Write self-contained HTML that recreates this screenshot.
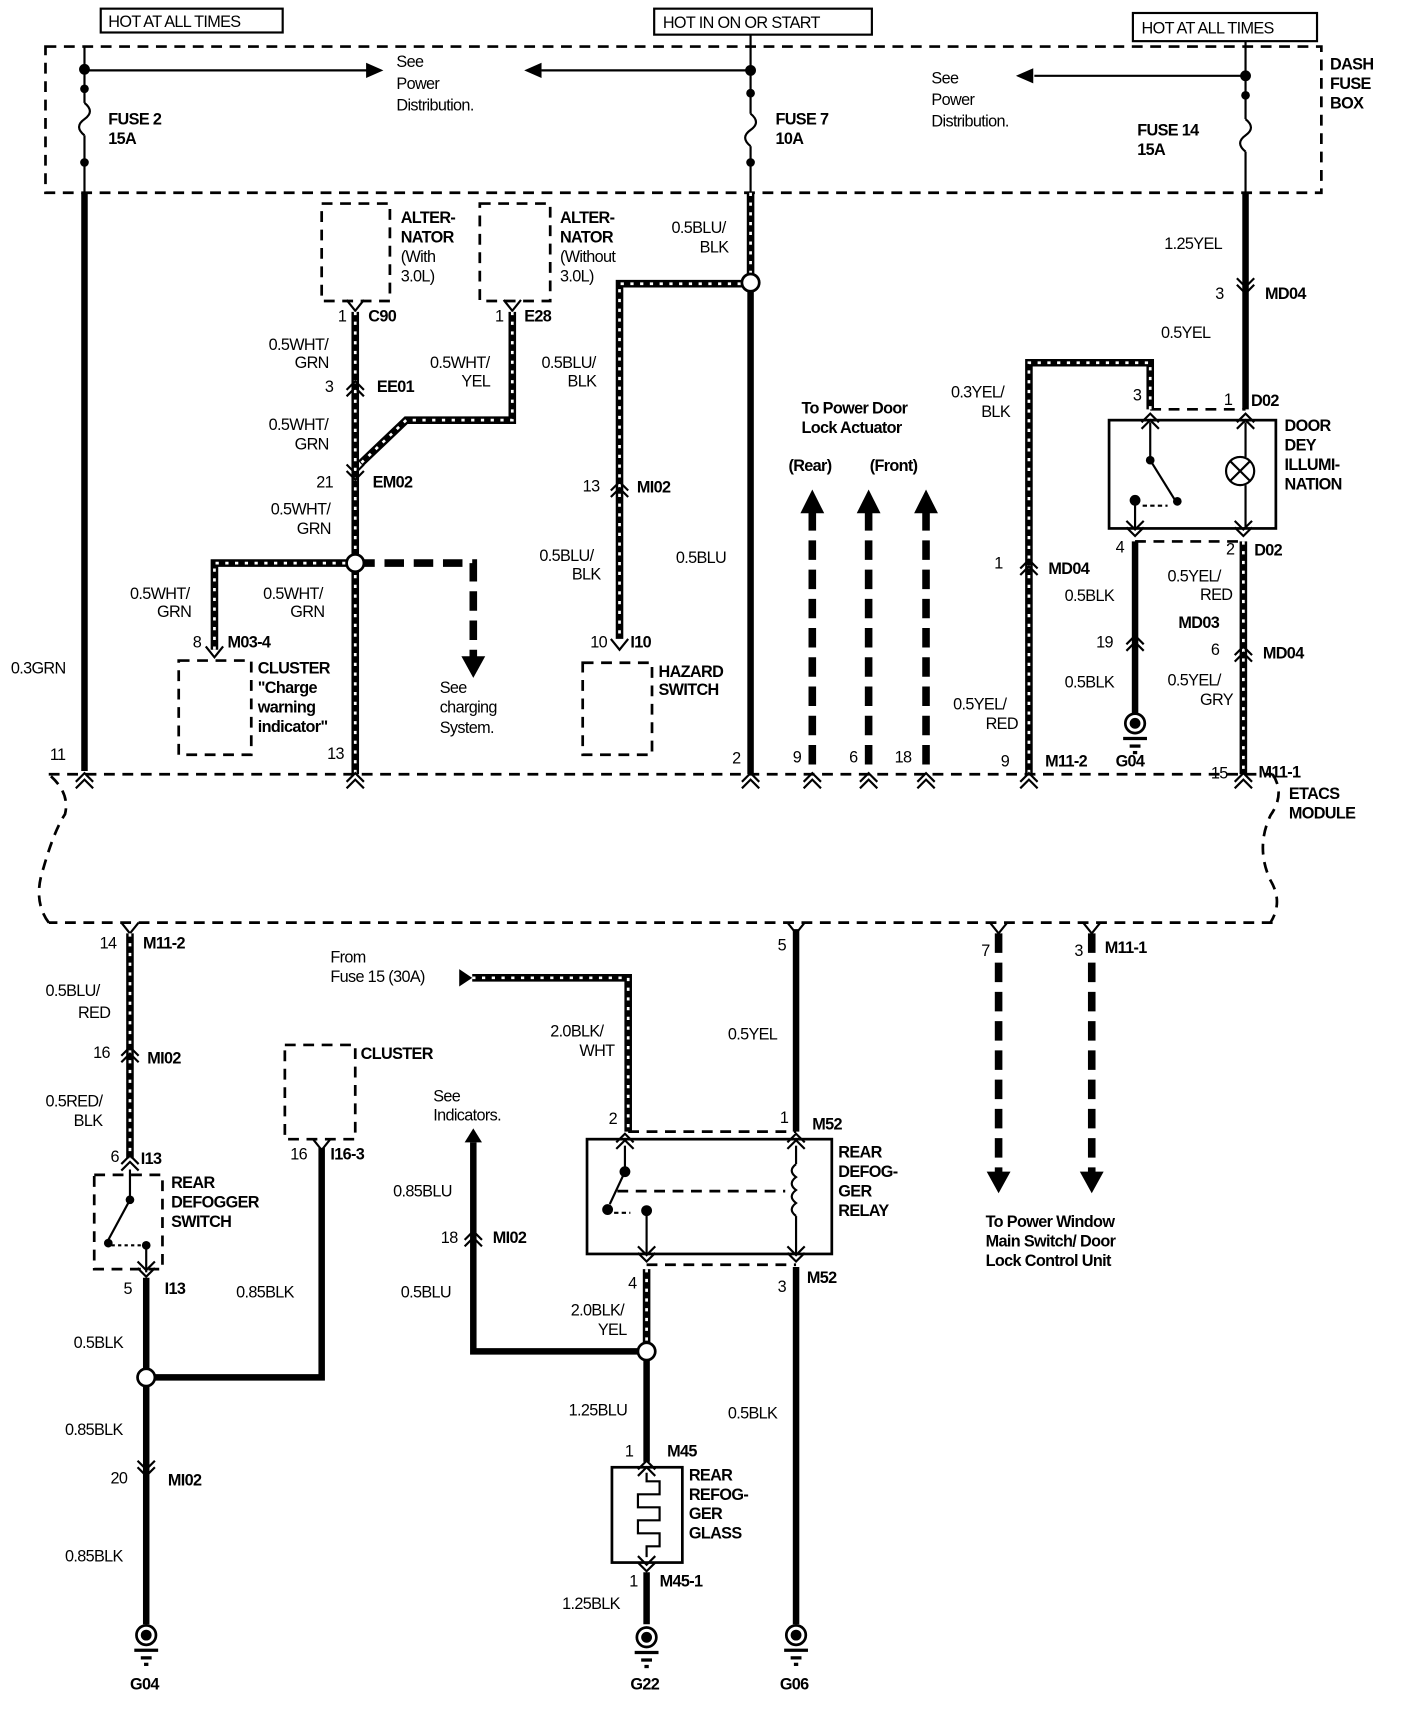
<!DOCTYPE html>
<html><head><meta charset="utf-8"><style>
html,body{margin:0;padding:0;background:#fff;}
svg{display:block;}
text{font-family:"Liberation Sans",Arial,sans-serif;font-weight:bold;font-size:15px;fill:#000;letter-spacing:-0.6px;}
.n{font-weight:normal;}
.w{stroke:#000;stroke-width:6;fill:none;}
.s1{stroke:#000;stroke-width:7;fill:none;}
.s2{stroke:#fff;stroke-width:2.5;fill:none;stroke-dasharray:3 6;}
.d{stroke:#000;stroke-width:2.5;fill:none;stroke-dasharray:10 7;}
.dw{stroke:#000;stroke-width:7;fill:none;stroke-dasharray:18 9;}
.t{stroke:#000;stroke-width:2;fill:none;}
.c{stroke:#000;stroke-width:2;fill:none;}
</style></head><body>
<svg width="1408" height="1712" viewBox="0 0 1300 1581" preserveAspectRatio="none" xmlns="http://www.w3.org/2000/svg">
<defs>
<g id="cu"><polyline class="c" points="-8,5 0,-3 8,5"/><polyline class="c" points="-8,11 0,3 8,11"/></g>
<g id="cd"><polyline class="c" points="-8,-5 0,3 8,-5"/><polyline class="c" points="-8,-11 0,-3 8,-11"/></g>
<g id="v1"><polyline class="c" points="-8,-6 0,4 8,-6"/></g>
<g id="gnd"><circle cx="0" cy="0" r="9" stroke="#000" stroke-width="2.5" fill="#fff"/><circle cx="0" cy="0" r="5" fill="#000"/><line x1="-11" y1="14" x2="11" y2="14" stroke="#000" stroke-width="3"/><line x1="-5" y1="21" x2="5" y2="21" stroke="#000" stroke-width="3"/><line x1="-2" y1="27" x2="2" y2="27" stroke="#000" stroke-width="3"/></g>
</defs>

<rect x="93" y="8" width="168" height="22" fill="none" stroke="#000" stroke-width="2"/>
<text x="100" y="25" class="n">HOT AT ALL TIMES</text>
<rect x="604" y="8" width="201" height="24" fill="none" stroke="#000" stroke-width="2"/>
<text x="612" y="26" class="n">HOT IN ON OR START</text>
<rect x="1046" y="12" width="170" height="26" fill="none" stroke="#000" stroke-width="2"/>
<text x="1054" y="31" class="n">HOT AT ALL TIMES</text>

<rect x="42" y="43" width="1178" height="135" class="d"/>
<text x="1228" y="64">DASH</text><text x="1228" y="82">FUSE</text><text x="1228" y="100">BOX</text>

<line x1="78" y1="43" x2="78" y2="95" class="t"/>
<circle cx="78" cy="64" r="5"/><circle cx="78" cy="82" r="4"/>
<path d="M78 95 q10 8 0 15 q-10 7 0 15" class="t"/>
<line x1="78" y1="125" x2="78" y2="178" class="t"/><circle cx="78" cy="150" r="4"/>
<line x1="78" y1="65" x2="340" y2="65" class="t"/><polygon points="354,65 338,58 338,72"/>
<text x="100" y="115">FUSE 2</text><text x="100" y="133">15A</text>
<text x="366" y="62" class="n">See</text><text x="366" y="82" class="n">Power</text><text x="366" y="102" class="n">Distribution.</text>
<line x1="78" y1="178" x2="78" y2="712" class="w"/>
<text x="10" y="622" class="n">0.3GRN</text>

<line x1="693" y1="32" x2="693" y2="105" class="t"/>
<circle cx="693" cy="65" r="5"/><circle cx="693" cy="86" r="4"/>
<path d="M693 105 q10 8 0 15 q-10 7 0 15" class="t"/>
<line x1="693" y1="135" x2="693" y2="178" class="t"/><circle cx="693" cy="150" r="4"/>
<line x1="693" y1="65" x2="500" y2="65" class="t"/><polygon points="484,65 500,58 500,72"/>
<text x="716" y="115">FUSE 7</text><text x="716" y="133">10A</text>
<line x1="693" y1="178" x2="693" y2="260" class="s1"/><line x1="693" y1="178" x2="693" y2="260" class="s2"/>
<line x1="693" y1="260" x2="693" y2="715" class="w"/>
<polyline points="693,262 572,262 572,590" class="s1"/><polyline points="693,262 572,262 572,590" class="s2"/>
<circle cx="693" cy="261" r="8" fill="#fff" stroke="#000" stroke-width="2.5"/>
<text x="620" y="215" class="n">0.5BLU/</text><text x="646" y="233" class="n">BLK</text>
<text x="500" y="340" class="n">0.5BLU/</text><text x="524" y="357" class="n">BLK</text>
<use href="#cu" x="572" y="448"/><text x="538" y="454" class="n">13</text><text x="588" y="455">MI02</text>
<text x="498" y="518" class="n">0.5BLU/</text><text x="528" y="535" class="n">BLK</text>
<text x="624" y="520" class="n">0.5BLU</text>
<use href="#v1" x="572" y="596"/><text x="545" y="598" class="n">10</text><text x="582" y="598">I10</text>
<rect x="538" y="612" width="64" height="85" class="d"/>
<text x="608" y="625">HAZARD</text><text x="608" y="642">SWITCH</text>

<line x1="1150" y1="38" x2="1150" y2="110" class="t"/>
<circle cx="1150" cy="70" r="5"/><circle cx="1150" cy="88" r="4"/>
<path d="M1150 110 q10 8 0 15 q-10 7 0 15" class="t"/>
<line x1="1150" y1="140" x2="1150" y2="178" class="t"/>
<line x1="1150" y1="70" x2="955" y2="70" class="t"/><polygon points="938,70 954,63 954,77"/>
<text x="1050" y="125">FUSE 14</text><text x="1050" y="143">15A</text>
<text x="860" y="77" class="n">See</text><text x="860" y="97" class="n">Power</text><text x="860" y="117" class="n">Distribution.</text>
<line x1="1150" y1="178" x2="1150" y2="378" class="w"/>
<text x="1075" y="230" class="n">1.25YEL</text>
<use href="#cd" x="1150" y="268"/><text x="1122" y="276" class="n">3</text><text x="1168" y="276">MD04</text>
<text x="1072" y="312" class="n">0.5YEL</text>
<text x="1130" y="374" class="n">1</text><text x="1155" y="375">D02</text>
<line x1="1062" y1="378" x2="1150" y2="378" class="d" stroke-width="2"/>
<rect x="1024" y="388" width="154" height="100" fill="none" stroke="#000" stroke-width="2.5"/>
<use href="#cu" x="1150" y="385"/><use href="#cu" x="1062" y="385"/>
<circle cx="1145" cy="435" r="13" class="t"/><line x1="1136" y1="426" x2="1154" y2="444" class="t"/><line x1="1154" y1="426" x2="1136" y2="444" class="t"/>
<line x1="1150" y1="390" x2="1150" y2="422" class="t"/><line x1="1150" y1="448" x2="1150" y2="488" class="t"/>
<line x1="1062" y1="390" x2="1062" y2="425" class="t"/><circle cx="1062" cy="425" r="4"/>
<line x1="1062" y1="425" x2="1085" y2="462" class="t"/><circle cx="1087" cy="463" r="4"/>
<circle cx="1048" cy="462" r="5"/><line x1="1048" y1="462" x2="1048" y2="488" class="t"/>
<line x1="1055" y1="467" x2="1078" y2="467" class="t" stroke-dasharray="4 3"/>
<use href="#cd" x="1048" y="492"/><use href="#cd" x="1148" y="492"/>
<line x1="1048" y1="500" x2="1148" y2="500" class="d" stroke-width="2"/>
<text x="1186" y="398">DOOR</text><text x="1186" y="416">DEY</text><text x="1186" y="434">ILLUMI-</text><text x="1186" y="452">NATION</text>
<text x="1030" y="510" class="n">4</text><text x="1132" y="512" class="n">2</text><text x="1158" y="513">D02</text>

<polyline points="1062,378 1062,335 950,335 950,715" class="s1"/><polyline points="1062,378 1062,335 950,335 950,715" class="s2"/>
<text x="1046" y="370" class="n">3</text>
<text x="878" y="367" class="n">0.3YEL/</text><text x="906" y="385" class="n">BLK</text>
<use href="#cu" x="950" y="520"/><text x="918" y="525" class="n">1</text><text x="968" y="530">MD04</text>
<text x="880" y="655" class="n">0.5YEL/</text><text x="910" y="673" class="n">RED</text>
<text x="924" y="708" class="n">9</text><text x="965" y="708">M11-2</text>
<line x1="1048" y1="500" x2="1048" y2="660" class="w"/>
<text x="983" y="555" class="n">0.5BLK</text>
<use href="#cu" x="1048" y="590"/><text x="1012" y="598" class="n">19</text>
<text x="983" y="635" class="n">0.5BLK</text>
<use href="#gnd" x="1048" y="668"/><text x="1030" y="708">G04</text>
<line x1="1148" y1="500" x2="1148" y2="715" class="s1"/><line x1="1148" y1="500" x2="1148" y2="715" class="s2"/>
<text x="1078" y="537" class="n">0.5YEL/</text><text x="1108" y="554" class="n">RED</text>
<text x="1088" y="580">MD03</text>
<use href="#cu" x="1148" y="600"/><text x="1118" y="605" class="n">6</text><text x="1166" y="608">MD04</text>
<text x="1078" y="633" class="n">0.5YEL/</text><text x="1108" y="651" class="n">GRY</text>
<text x="1118" y="719" class="n">15</text><text x="1162" y="718">M11-1</text>

<rect x="297" y="188" width="63" height="90" class="d"/>
<rect x="443" y="188" width="65" height="90" class="d"/>
<text x="370" y="206">ALTER-</text><text x="370" y="224">NATOR</text><text x="370" y="242" class="n">(With</text><text x="370" y="260" class="n">3.0L)</text>
<text x="517" y="206">ALTER-</text><text x="517" y="224">NATOR</text><text x="517" y="242" class="n">(Without</text><text x="517" y="260" class="n">3.0L)</text>
<use href="#v1" x="328" y="283"/><use href="#v1" x="473" y="283"/>
<text x="312" y="297" class="n">1</text><text x="340" y="297">C90</text>
<text x="457" y="297" class="n">1</text><text x="484" y="297">E28</text>
<line x1="328" y1="288" x2="328" y2="715" class="s1"/><line x1="328" y1="288" x2="328" y2="715" class="s2"/>
<polyline points="473,288 473,388 375,388 333,428" class="s1"/><polyline points="473,288 473,388 375,388 333,428" class="s2"/>
<text x="248" y="323" class="n">0.5WHT/</text><text x="272" y="340" class="n">GRN</text>
<text x="397" y="340" class="n">0.5WHT/</text><text x="426" y="357" class="n">YEL</text>
<use href="#cu" x="328" y="355"/><text x="300" y="362" class="n">3</text><text x="348" y="362">EE01</text>
<text x="248" y="397" class="n">0.5WHT/</text><text x="272" y="415" class="n">GRN</text>
<use href="#cd" x="328" y="440"/><text x="292" y="450" class="n">21</text><text x="344" y="450">EM02</text>
<text x="250" y="475" class="n">0.5WHT/</text><text x="274" y="493" class="n">GRN</text>
<polyline points="328,520 198,520 198,600" class="s1"/><polyline points="328,520 198,520 198,600" class="s2"/>
<polyline points="328,520 437,520 437,608" class="dw"/><polygon points="426,606 448,606 437,626"/>
<circle cx="328" cy="520" r="8" fill="#fff" stroke="#000" stroke-width="2.5"/>
<text x="120" y="553" class="n">0.5WHT/</text><text x="145" y="570" class="n">GRN</text>
<text x="243" y="553" class="n">0.5WHT/</text><text x="268" y="570" class="n">GRN</text>
<text x="406" y="640" class="n">See</text><text x="406" y="658" class="n">charging</text><text x="406" y="677" class="n">System.</text>
<use href="#v1" x="198" y="603"/><text x="178" y="598" class="n">8</text><text x="210" y="598">M03-4</text>
<rect x="165" y="610" width="67" height="87" class="d"/>
<text x="238" y="622">CLUSTER</text><text x="238" y="640">"Charge</text><text x="238" y="658">warning</text><text x="238" y="676">indicator"</text>
<text x="302" y="701" class="n">13</text>
<text x="46" y="702" class="n">11</text>

<text x="740" y="382">To Power Door</text><text x="740" y="400">Lock Actuator</text>
<text x="728" y="435">(Rear)</text><text x="803" y="435">(Front)</text>
<line x1="750" y1="472" x2="750" y2="712" class="dw"/><polygon points="739,474 761,474 750,452"/>
<line x1="802" y1="472" x2="802" y2="712" class="dw"/><polygon points="791,474 813,474 802,452"/>
<line x1="855" y1="472" x2="855" y2="712" class="dw"/><polygon points="844,474 866,474 855,452"/>
<text x="732" y="704" class="n">9</text><text x="784" y="704" class="n">6</text><text x="826" y="704" class="n">18</text>
<text x="676" y="705" class="n">2</text>

<path d="M45 715 L1175 715 M1175 715 q12 18 -2 38 q-14 30 0 60 q12 20 0 39 M1175 852 L45 852 M45 852 q-15 -20 -5 -50 q10 -35 20 -50 q5 -20 -15 -37" class="d"/>
<g>
<use href="#cu" x="78" y="717"/><use href="#cu" x="328" y="717"/><use href="#cu" x="693" y="717"/><use href="#cu" x="750" y="717"/><use href="#cu" x="802" y="717"/><use href="#cu" x="855" y="717"/><use href="#cu" x="950" y="717"/><use href="#cu" x="1148" y="717"/>
</g>
<text x="1190" y="738">ETACS</text><text x="1190" y="756">MODULE</text>

<use href="#v1" x="120" y="858"/><text x="92" y="876" class="n">14</text><text x="132" y="876">M11-2</text>
<line x1="120" y1="862" x2="120" y2="1070" class="s1"/><line x1="120" y1="862" x2="120" y2="1070" class="s2"/>
<text x="42" y="920" class="n">0.5BLU/</text><text x="72" y="940" class="n">RED</text>
<use href="#cu" x="120" y="970"/><text x="86" y="977" class="n">16</text><text x="136" y="982">MI02</text>
<text x="42" y="1022" class="n">0.5RED/</text><text x="68" y="1040" class="n">BLK</text>
<use href="#cu" x="120" y="1070"/><text x="102" y="1073" class="n">6</text><text x="130" y="1075">I13</text>
<rect x="87" y="1085" width="63" height="87" class="d"/>
<line x1="120" y1="1080" x2="120" y2="1108" class="t"/><circle cx="120" cy="1108" r="4"/>
<line x1="120" y1="1108" x2="100" y2="1145" class="t"/><circle cx="100" cy="1148" r="4"/>
<line x1="103" y1="1150" x2="130" y2="1150" class="t" stroke-dasharray="3 3"/>
<circle cx="135" cy="1150" r="4"/><line x1="135" y1="1150" x2="135" y2="1175" class="t"/>
<use href="#cd" x="135" y="1176"/>
<text x="158" y="1097">REAR</text><text x="158" y="1115">DEFOGGER</text><text x="158" y="1133">SWITCH</text>
<text x="114" y="1195" class="n">5</text><text x="152" y="1195">I13</text>
<line x1="135" y1="1180" x2="135" y2="1500" class="w"/>
<polyline points="135,1272 297,1272 297,1060" class="w"/>
<circle cx="135" cy="1272" r="8" fill="#fff" stroke="#000" stroke-width="2.5"/>
<rect x="263" y="965" width="65" height="87" class="d"/>
<text x="333" y="978">CLUSTER</text>
<use href="#v1" x="297" y="1058"/><text x="268" y="1071" class="n">16</text><text x="305" y="1071">I16-3</text>
<text x="218" y="1198" class="n">0.85BLK</text>
<text x="68" y="1245" class="n">0.5BLK</text>
<text x="60" y="1325" class="n">0.85BLK</text>
<use href="#cd" x="135" y="1360"/><text x="102" y="1370" class="n">20</text><text x="155" y="1372">MI02</text>
<text x="60" y="1442" class="n">0.85BLK</text>
<use href="#gnd" x="135" y="1510"/><text x="120" y="1560">G04</text>

<text x="305" y="889" class="n">From</text><text x="305" y="907" class="n">Fuse 15 (30A)</text>
<polygon points="424,895 436,903 424,911"/>
<polyline points="436,903 580,903 580,1045" class="s1"/><polyline points="436,903 580,903 580,1045" class="s2"/>
<text x="508" y="957" class="n">2.0BLK/</text><text x="535" y="975" class="n">WHT</text>
<text x="562" y="1038" class="n">2</text>
<line x1="580" y1="1045" x2="735" y2="1045" class="d" stroke-width="2"/>
<rect x="542" y="1052" width="226" height="106" fill="none" stroke="#000" stroke-width="2.5"/>
<use href="#cu" x="577" y="1050"/><use href="#cu" x="735" y="1050"/>
<line x1="577" y1="1058" x2="577" y2="1080" class="t"/><circle cx="577" cy="1082" r="5"/>
<line x1="577" y1="1082" x2="563" y2="1112" class="t"/><circle cx="561" cy="1117" r="5"/>
<line x1="567" y1="1120" x2="582" y2="1120" class="t" stroke-dasharray="4 3"/>
<circle cx="597" cy="1118" r="5"/><line x1="597" y1="1118" x2="597" y2="1158" class="t"/>
<line x1="570" y1="1100" x2="725" y2="1100" class="d" stroke-width="2"/>
<line x1="735" y1="1058" x2="735" y2="1075" class="t"/>
<path d="M735 1075 q-8 6 0 12 q-8 6 0 12 q-8 6 0 12 q-8 6 0 12" class="t"/>
<line x1="735" y1="1123" x2="735" y2="1158" class="t"/>
<use href="#cd" x="597" y="1162"/><use href="#cd" x="735" y="1162"/>
<line x1="597" y1="1168" x2="735" y2="1168" class="d" stroke-width="2"/>
<text x="774" y="1069">REAR</text><text x="774" y="1087">DEFOG-</text><text x="774" y="1105">GER</text><text x="774" y="1123">RELAY</text>
<text x="580" y="1190" class="n">4</text><text x="718" y="1193" class="n">3</text><text x="745" y="1185">M52</text>
<text x="720" y="1037" class="n">1</text><text x="750" y="1043">M52</text>
<line x1="735" y1="858" x2="735" y2="1045" class="w"/>
<line x1="735" y1="1170" x2="735" y2="1500" class="w"/>
<use href="#v1" x="735" y="858"/><text x="718" y="878" class="n">5</text>
<text x="672" y="960" class="n">0.5YEL</text><text x="672" y="1310" class="n">0.5BLK</text>
<use href="#gnd" x="735" y="1510"/><text x="720" y="1560">G06</text>

<line x1="597" y1="1172" x2="597" y2="1248" class="s1"/><line x1="597" y1="1172" x2="597" y2="1248" class="s2"/>
<text x="527" y="1215" class="n">2.0BLK/</text><text x="552" y="1233" class="n">YEL</text>
<polyline points="597,1248 437,1248 437,1055" class="w"/><polygon points="429,1055 445,1055 437,1042"/>
<circle cx="597" cy="1248" r="8" fill="#fff" stroke="#000" stroke-width="2.5"/>
<text x="400" y="1017" class="n">See</text><text x="400" y="1035" class="n">Indicators.</text>
<text x="363" y="1105" class="n">0.85BLU</text>
<use href="#cu" x="437" y="1140"/><text x="407" y="1148" class="n">18</text><text x="455" y="1148">MI02</text>
<text x="370" y="1198" class="n">0.5BLU</text>
<line x1="597" y1="1256" x2="597" y2="1350" class="w"/>
<text x="525" y="1307" class="n">1.25BLU</text>
<text x="577" y="1345" class="n">1</text><text x="616" y="1345">M45</text>
<use href="#cu" x="597" y="1352"/>
<rect x="565" y="1355" width="65" height="88" fill="none" stroke="#000" stroke-width="2.5"/>
<path d="M597 1360 v8 h12 v12 h-20 v12 h20 v12 h-20 v12 h20 v12 h-12 v10" class="t"/>
<use href="#cd" x="597" y="1448"/>
<text x="636" y="1367">REAR</text><text x="636" y="1385">REFOG-</text><text x="636" y="1403">GER</text><text x="636" y="1421">GLASS</text>
<text x="581" y="1465" class="n">1</text><text x="609" y="1465">M45-1</text>
<line x1="597" y1="1452" x2="597" y2="1500" class="w"/>
<text x="519" y="1486" class="n">1.25BLK</text>
<use href="#gnd" x="597" y="1512"/><text x="582" y="1560">G22</text>

<line x1="922" y1="862" x2="922" y2="1085" class="dw"/><polygon points="911,1082 933,1082 922,1102"/>
<line x1="1008" y1="862" x2="1008" y2="1085" class="dw"/><polygon points="997,1082 1019,1082 1008,1102"/>
<use href="#v1" x="922" y="858"/><use href="#v1" x="1008" y="858"/>
<text x="906" y="883" class="n">7</text><text x="992" y="883" class="n">3</text><text x="1020" y="880">M11-1</text>
<text x="910" y="1133">To Power Window</text><text x="910" y="1151">Main Switch/ Door</text><text x="910" y="1169">Lock Control Unit</text>
</svg>
</body></html>
